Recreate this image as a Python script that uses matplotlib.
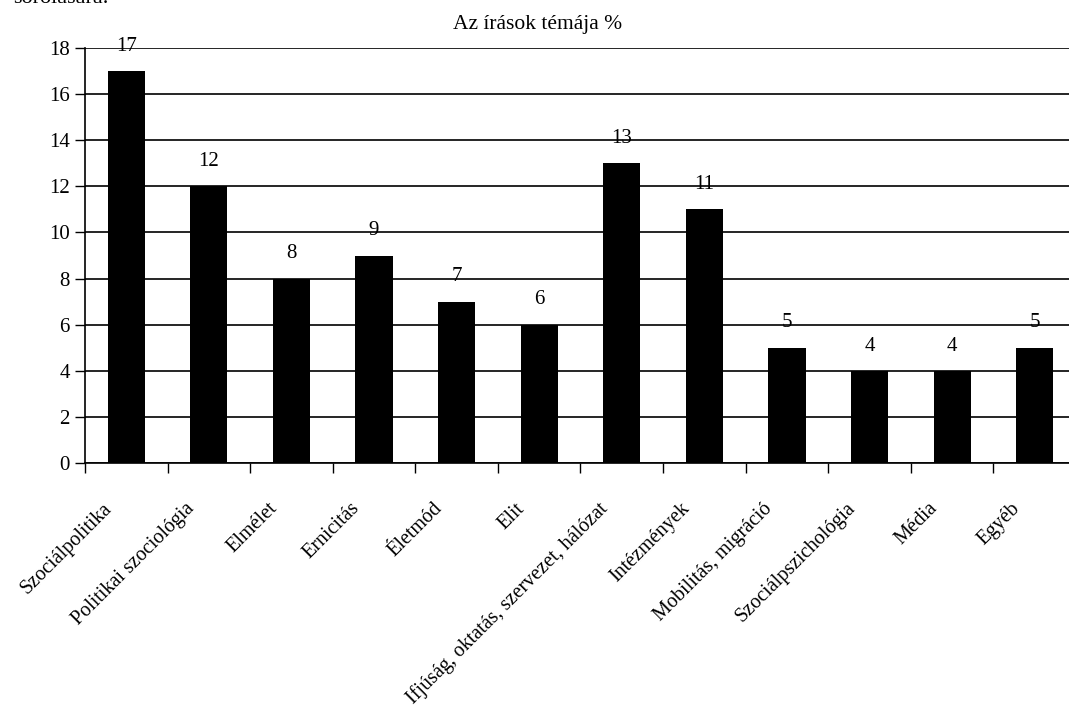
import matplotlib
matplotlib.use("Agg")
import matplotlib.pyplot as plt
import matplotlib.transforms as mtransforms
import numpy as np

categories = ["Szociálpolitika", "Politikai szociológia", "Elmélet", "Ernicitás",
              "Életmód", "Elit", "Ifjúság, oktatás, szervezet, hálózat",
              "Intézmények", "Mobilitás, migráció", "Szociálpszichológia",
              "Média", "Egyéb"]
values = [17, 12, 8, 9, 7, 6, 13, 11, 5, 4, 4, 5]
yticks = [0, 2, 4, 6, 8, 10, 12, 14, 16, 18]
title = "Az írások témája %"

plt.rcParams['font.family'] = ['Liberation Serif', 'DejaVu Serif']

W, H = 1069, 714
fig = plt.figure(figsize=(W / 100, H / 100), dpi=100)
# axes run past the right edge of the picture, like the cropped original
ax = fig.add_axes([85 / W, 251 / H, (1076 - 85) / W, 415 / H])

x = np.arange(len(categories))
ax.bar(x, values, width=0.45, color="black", zorder=3)

for xi, v in zip(x, values):
    ax.annotate(str(v), (xi, v), xytext=(0, 11), textcoords="offset points",
                ha="center", va="bottom", fontsize=15)

ax.set_xlim(-0.5, len(categories) - 0.5)
ax.set_ylim(0, 18)
ax.set_yticks(yticks)
ax.tick_params(axis="y", labelsize=15, length=7, width=1, direction="out", pad=4)
ax.yaxis.grid(True, color="black", linewidth=1.2, zorder=0)

ax.set_xticks(x)
ax.set_xticklabels(categories, rotation=45, ha="right", rotation_mode="anchor",
                   fontsize=14.5)
ax.tick_params(axis="x", which="major", length=0, pad=26)
shift = mtransforms.ScaledTranslation(-0.24, 0, fig.dpi_scale_trans)
for lab in ax.get_xticklabels():
    lab.set_transform(lab.get_transform() + shift)
ax.set_xticks(np.arange(-0.5, len(categories) - 0.4, 1), minor=True)
ax.tick_params(axis="x", which="minor", length=7, width=1, direction="out")

for s in ["top", "right"]:
    ax.spines[s].set_visible(False)
ax.spines["left"].set_linewidth(1.2)
ax.spines["bottom"].set_linewidth(1.2)

fig.text(538 / W, 1 - 25 / H, title, ha="center", va="center", fontsize=15.5)
fig.text(13 / W, 1 - 3 / H, "sorolására.", ha="left", va="baseline", fontsize=16)

fig.savefig("out.png", dpi=100)
